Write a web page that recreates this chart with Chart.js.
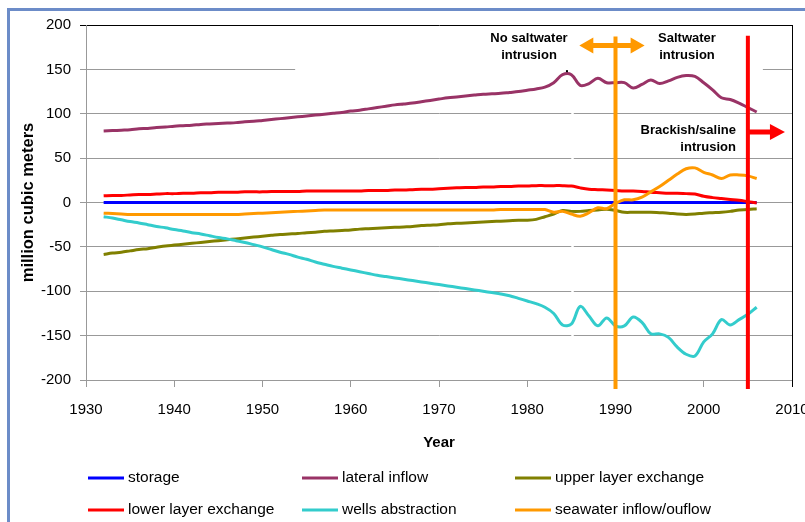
<!DOCTYPE html>
<html>
<head>
<meta charset="utf-8">
<script src="https://cdn.jsdelivr.net/npm/chart.js@4/dist/chart.umd.min.js"></script>
<style>
html,body{margin:0;padding:0;background:#fff;}
#wrap{width:805px;height:522px;position:relative;overflow:hidden;}
canvas{display:block;}
</style>
</head>
<body>
<div id="wrap"><canvas id="c" width="805" height="522"></canvas></div>
<script>
// ---------- DATA ----------
const years = [1932,1933,1934,1935,1936,1937,1938,1939,1940,
  1941,1942,1943,1944,1945,1946,1947,1948,1949,1950,
  1951,1952,1953,1954,1955,1956,1957,1958,1959,1960,
  1961,1962,1963,1964,1965,1966,1967,1968,1969,1970,
  1971,1972,1973,1974,1975,1976,1977,1978,1979,1980,
  1981,1982,1983,1984,1985,1986,1987,1988,1989,1990,
  1991,1992,1993,1994,1995,1996,1997,1998,1999,2000,
  2001,2002,2003,2004,2005,2006];

const storage = [0,0,0,0,0,0,0,0,0,
  0,0,0,0,0,0,0,0,0,0,
  0,0,0,0,0,0,0,0,0,0,
  0,0,0,0,0,0,0,0,0,0,
  0,0,0,0,0,0,0,0,0,0,
  0,0,0,0,0,0,0,0,0,0,
  0,0,0,0,0,0,0,0,0,0,
  0,0,0,0,0,0];

const lateralInflow = [80.5,81,81.5,82,83,83.5,84.5,85,86,
  86.5,87,88,88.5,89,89.5,90,91,91.5,92.5,
  93.5,94.5,95.5,96.5,97.5,98.5,99.5,100.5,101.5,103,
  104,105.5,107,108.5,110,111,112,113.5,115,116.5,
  118,119,120,121,122,122.5,123,124,125,126.5,
  128,130,135,144,144,132,134,140,135,135,
  135,129,133,138,134,137,141,143,142,135,
  127,118,116,112,107,102];

const upperLayer = [-58.5,-57,-56,-54.5,-53,-52,-50.5,-49,-48,
  -47,-46,-45,-44,-43,-42,-41,-40,-39,-38,
  -37,-36,-35.5,-35,-34,-33.5,-32.5,-32,-31.5,-31,
  -30,-29.5,-29,-28.5,-28,-27.5,-27,-26,-25.5,-25,
  -24,-23.5,-23,-22.5,-22,-21.5,-21,-20.5,-20,-20,
  -19,-16,-13,-9,-10,-10,-9,-8.5,-7.5,-9,
  -11,-11,-11,-11,-11.5,-12,-13,-13.5,-13,-12,
  -11.5,-11,-10,-8.5,-8,-7];

const lowerLayer = [7.5,8,8,8.5,9,9,9.5,10,10,
  10.5,10.5,11,11,11.5,11.5,11.5,12,12,12,
  12.5,12.5,12.5,12.5,13,13,13,13,13,13,
  13,13.5,13.5,13.5,14,14,14.5,15,15,15.5,
  16,16.5,17,17,17.5,17.5,18,18,18.5,18.5,
  19,19,19,19,18.5,16.5,15,14.5,14,13.5,
  13,13,12.5,11.5,11,10.5,10.5,10,9.5,7,
  5.5,4.5,3.5,2.5,1,-0.5];

const wellsAbstraction = [-16,-17.5,-19.5,-21.5,-23,-25,-27,-28.5,-30.5,
  -32,-34,-35.5,-37.5,-39.5,-41,-43,-45,-47.5,-50,
  -53,-56,-58.5,-61.5,-64,-67,-69.5,-72,-74,-76,
  -78,-80,-82,-83.5,-85,-86.5,-88,-89.5,-91,-92.5,
  -94,-95.5,-97,-98.5,-100,-101.5,-103,-105,-108,-111,
  -114,-118,-125,-138,-137,-117,-128,-139,-130,-139,
  -139,-129,-135,-148,-148,-152,-163,-171,-173,-157,
  -148,-132,-138,-132,-126,-118];

const seawater = [-12,-12.5,-13,-13.5,-13.5,-13.5,-13.5,-13.5,-13.5,
  -13.5,-13.5,-13.5,-13.5,-13.5,-13.5,-13.5,-13,-12.5,-12,
  -11.5,-11,-10.5,-10,-9.5,-9,-8.5,-8.5,-8.5,-8.5,
  -8.5,-8.5,-8.5,-8.5,-8.5,-8.5,-8.5,-8.5,-8.5,-8.5,
  -8.5,-8.5,-8.5,-8.5,-8.5,-8.5,-8,-8,-8,-8,
  -8,-8,-11,-10,-13,-15.5,-11.5,-6,-7,-1,
  3,3,6,12,18,25,32,38,39,34,
  31,27,31,31,30,27];

const seriesNames = ["storage","lateral inflow","upper layer exchange",
  "lower layer exchange","wells abstraction","seawater inflow/ouflow"];
const seriesColors = ["#0000FF","#993366","#808000","#FF0000","#33CCCC","#FF9900"];
const seriesValues = [storage, lateralInflow, upperLayer, lowerLayer, wellsAbstraction, seawater];

const xTicks = [1930,1940,1950,1960,1970,1980,1990,2000,2010];
const yTicks = [-200,-150,-100,-50,0,50,100,150,200];

// annotation anchors in data units
const phaseYears = [1990, 2005];

// ---------- CHART ----------
const FONT = "'Liberation Sans', Arial, sans-serif";

const datasets = seriesValues.map((vals, i) => ({
  label: seriesNames[i],
  data: years.map((yr, k) => ({x: yr, y: vals[k]})),
  borderColor: seriesColors[i],
  backgroundColor: seriesColors[i],
  borderWidth: 3,
  pointRadius: 0,
  tension: 0.35,
  fill: false,
  order: seriesValues.length - i
}));

function arrowRight(c, xa, xb, y, head) {
  c.beginPath();
  c.moveTo(xa, y - 2.5);
  c.lineTo(xb - head, y - 2.5);
  c.lineTo(xb - head, y - 8);
  c.lineTo(xb, y);
  c.lineTo(xb - head, y + 8);
  c.lineTo(xb - head, y + 2.5);
  c.lineTo(xa, y + 2.5);
  c.closePath();
  c.fill();
}
function arrowBoth(c, xa, xb, y, head) {
  c.beginPath();
  c.moveTo(xa, y);
  c.lineTo(xa + head, y - 8);
  c.lineTo(xa + head, y - 2.5);
  c.lineTo(xb - head, y - 2.5);
  c.lineTo(xb - head, y - 8);
  c.lineTo(xb, y);
  c.lineTo(xb - head, y + 8);
  c.lineTo(xb - head, y + 2.5);
  c.lineTo(xa + head, y + 2.5);
  c.lineTo(xa + head, y + 8);
  c.closePath();
  c.fill();
}

const decor = {
  id: 'decor',
  beforeDraw(chart) {
    const c = chart.ctx;
    c.save();
    c.fillStyle = '#ffffff';
    c.fillRect(0, 0, chart.width, chart.height);
    c.fillStyle = '#6C8CC8';
    c.fillRect(7, 8, chart.width - 7, 3);
    c.fillRect(7, 8, 3, chart.height - 8);
    c.restore();
  },
  beforeDatasetsDraw(chart) {
    const c = chart.ctx, xs = chart.scales.x, ys = chart.scales.y, a = chart.chartArea;
    c.save();
    c.fillStyle = '#ffffff';
    const mx1 = xs.getPixelForValue(1953.7), mx2 = xs.getPixelForValue(2006.7);
    const my = ys.getPixelForValue(150);
    c.fillRect(mx1, my - 3, mx2 - mx1, 6);
    const gx = xs.getPixelForValue(1985.1);
    const gy1 = ys.getPixelForValue(115), gy2 = ys.getPixelForValue(-190);
    c.fillRect(gx - 1, gy1, 2.5, gy2 - gy1);
    c.strokeStyle = '#000000';
    c.lineWidth = 1;
    c.beginPath();
    c.moveTo(Math.round(a.right) + 0.5, a.top);
    c.lineTo(Math.round(a.right) + 0.5, a.bottom + 7);
    c.stroke();
    c.restore();
  },
  afterDatasetsDraw(chart) {
    const c = chart.ctx, xs = chart.scales.x, ys = chart.scales.y;
    c.save();
    const px1 = xs.getPixelForValue(phaseYears[0]);
    const px2 = xs.getPixelForValue(phaseYears[1]);
    c.lineWidth = 4;
    c.strokeStyle = '#FF9900';
    c.beginPath(); c.moveTo(px1, ys.getPixelForValue(187)); c.lineTo(px1, ys.getPixelForValue(-210)); c.stroke();
    c.strokeStyle = '#FF0000';
    c.beginPath(); c.moveTo(px2, ys.getPixelForValue(188)); c.lineTo(px2, ys.getPixelForValue(-210)); c.stroke();
    c.fillStyle = '#FF9900';
    arrowBoth(c, xs.getPixelForValue(1985.9), xs.getPixelForValue(1993.3), ys.getPixelForValue(176.9), 14);
    c.fillStyle = '#FF0000';
    arrowRight(c, px2, xs.getPixelForValue(2009.2), ys.getPixelForValue(79.4), 15);
    c.fillStyle = '#000';
    c.fillRect(xs.getPixelForValue(1984.5) - 1, ys.getPixelForValue(148) - 1, 2, 2);
    c.fillStyle = '#000000';
    c.font = "bold 13px " + FONT;
    c.textBaseline = 'middle';
    c.textAlign = 'center';
    c.fillText('No saltwater', xs.getPixelForValue(1980.2), ys.getPixelForValue(184.8));
    c.fillText('intrusion', xs.getPixelForValue(1980.2), ys.getPixelForValue(165.6));
    c.fillText('Saltwater', xs.getPixelForValue(1998.1), ys.getPixelForValue(184.8));
    c.fillText('intrusion', xs.getPixelForValue(1998.1), ys.getPixelForValue(165.6));
    c.textAlign = 'right';
    c.fillText('Brackish/saline', xs.getPixelForValue(2003.65), ys.getPixelForValue(81.1));
    c.fillText('intrusion', xs.getPixelForValue(2003.65), ys.getPixelForValue(62));
    c.restore();
  },
  afterDraw(chart) {
    const c = chart.ctx, a = chart.chartArea;
    c.save();
    c.fillStyle = '#000000';
    c.font = "bold 15px " + FONT;
    c.textAlign = 'center';
    c.textBaseline = 'middle';
    c.fillText('Year', (a.left + a.right) / 2, 443);
    c.save();
    c.translate(28, (a.top + a.bottom) / 2);
    c.rotate(-Math.PI / 2);
    c.font = "bold 16.5px " + FONT;
    c.fillText('million cubic meters', 0, 0);
    c.restore();
    const colX = [88, 302, 515];
    const rowY = [478, 510];
    c.font = "15.5px " + FONT;
    c.textAlign = 'left';
    chart.data.datasets.forEach((ds, i) => {
      const x = colX[i % 3], y = rowY[Math.floor(i / 3)];
      c.strokeStyle = ds.borderColor;
      c.lineWidth = 3;
      c.beginPath(); c.moveTo(x, y); c.lineTo(x + 36, y); c.stroke();
      c.fillStyle = '#000';
      c.fillText(ds.label, x + 40, y);
    });
    c.restore();
  }
};

new Chart(document.getElementById('c'), {
  type: 'line',
  data: { datasets },
  options: {
    responsive: false,
    animation: false,
    devicePixelRatio: 1,
    layout: { padding: { top: 25, right: 13, left: 0, bottom: 0 } },
    plugins: { legend: { display: false }, tooltip: { enabled: false } },
    scales: {
      x: {
        type: 'linear',
        min: xTicks[0],
        max: xTicks[xTicks.length - 1],
        afterBuildTicks: s => { s.ticks = xTicks.map(v => ({ value: v })); },
        ticks: {
          callback: v => String(v),
          font: { family: FONT, size: 15 },
          color: '#000',
          padding: 14,
          maxRotation: 0,
          autoSkip: false
        },
        grid: { drawOnChartArea: false, drawTicks: true, tickLength: 7, color: '#999999' },
        border: { color: '#999999', width: 1 },
        afterFit: s => { s.height = 142; s.paddingLeft = 0; s.paddingRight = 0; }
      },
      y: {
        min: yTicks[0],
        max: yTicks[yTicks.length - 1],
        afterBuildTicks: s => { s.ticks = yTicks.map(v => ({ value: v })); },
        ticks: {
          callback: v => String(v),
          font: { family: FONT, size: 15 },
          color: '#000',
          padding: 9
        },
        grid: {
          color: ctx => (ctx.tick && ctx.tick.value === 200) ? '#000000' : '#999999',
          tickLength: 6,
          drawTicks: true
        },
        border: { color: '#999999', width: 1 },
        afterFit: s => { s.width = 86; s.paddingTop = 0; s.paddingBottom = 0; }
      }
    }
  },
  plugins: [decor]
});
</script>
</body>
</html>
